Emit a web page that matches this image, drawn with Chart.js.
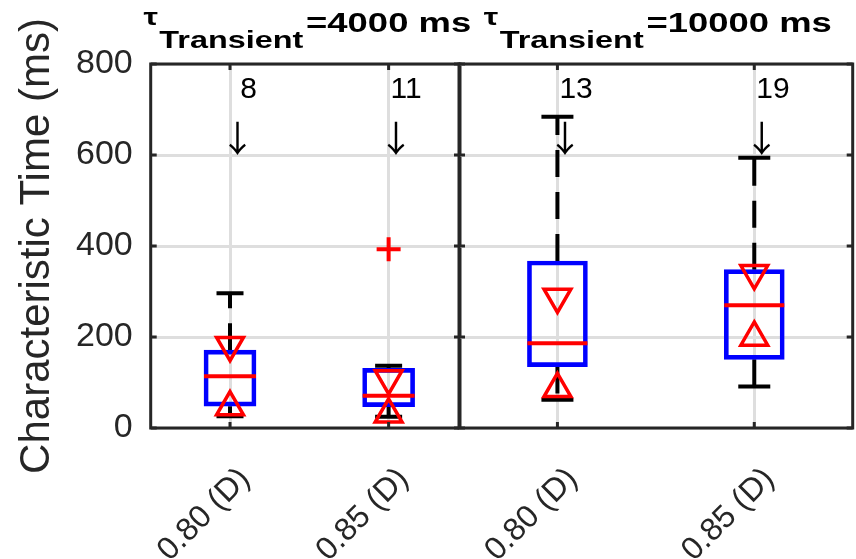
<!DOCTYPE html>
<html>
<head>
<meta charset="utf-8">
<script src="https://cdn.jsdelivr.net/npm/chart.js@4.4.1/dist/chart.umd.min.js"></script>
<style>
  html, body { margin: 0; padding: 0; background: #ffffff; }
  #wrap { position: relative; width: 856px; height: 559px; overflow: hidden; }
  #wrap canvas { position: absolute; left: 0; top: 0; }
</style>
</head>
<body>
<div id="wrap">
  <canvas id="panelA" width="856" height="559"></canvas>
  <canvas id="panelB" width="856" height="559"></canvas>
</div>
<script>
// Groups on the x axis (same for both panels)
const categories = ['0.80 (D)', '0.85 (D)'];
// Transient time constant of each panel (ms)
const transientTimes = [4000, 10000];
// Box-plot statistics, one row per panel, one entry per group (ms)
const upperAdjacent = [[296, 137], [684, 594]];
const q3Values      = [[171, 131], [367, 348]];
const medianValues  = [[114, 71],  [186, 270]];
const q1Values      = [[48, 47],   [135, 151]];
const lowerAdjacent = [[26, 25],   [62, 91]];
const notchHigh     = [[182, 109], [288, 340]];
const notchLow      = [[46, 30],   [86, 199]];
const outlierValues = [[[], [393]], [[], []]];
// Number of samples behind each box
const sampleCounts  = [[8, 11], [13, 19]];
// Y axis
const yTicks = [0, 200, 400, 600, 800];
const yLabel = 'Characteristic Time (ms)';
// Where the sample counts and their arrows sit (ms)
const countLevel = 743;
const arrowLevel = 637;

const FONT = '"Liberation Sans", Arial, Helvetica, sans-serif';
const ARROW_FONT = '"Noto Sans CJK JP", "DejaVu Sans", sans-serif';
const INK = '#262626';
const GRID = '#dedede';
const W = 856, H = 559, PLOT_TOP = 64, PLOT_BOTTOM = 428;

// Pixel geometry of the two side-by-side axes
const panelLayout = [
  { left: 150.7, right: 460, xMax: 2.45, box: 52, cap: 27 },
  { left: 459,   right: 852.7, xMax: 2.5, box: 60, cap: 32 }
];

Chart.defaults.font.family = FONT;

const decorPlugin = {
  id: 'panelDecor',
  afterDraw(chart, args, opts) {
    const p = opts.panel;
    const { ctx, chartArea: a, scales: { x, y } } = chart;
    ctx.save();

    // group labels, rotated 45 degrees under each tick
    ctx.font = '32px ' + FONT;
    ctx.fillStyle = INK;
    ctx.textAlign = 'right';
    ctx.textBaseline = 'middle';
    categories.forEach((c, i) => {
      const px = x.getPixelForValue(i + 1);
      ctx.save();
      ctx.translate(px + 15, a.bottom + 46);
      ctx.rotate(-Math.PI / 4);
      ctx.fillText(c, 0, 0);
      ctx.restore();
    });

    // sample counts with arrows pointing down into the plot
    ctx.fillStyle = '#000000';
    categories.forEach((c, i) => {
      const px = x.getPixelForValue(i + 1);
      ctx.font = '30px ' + FONT;
      ctx.textAlign = 'left';
      ctx.textBaseline = 'middle';
      ctx.fillText(String(sampleCounts[p][i]).padStart(2, ' '), px + 2, y.getPixelForValue(countLevel));
      ctx.font = '36px ' + ARROW_FONT;
      ctx.textAlign = 'center';
      ctx.fillText('\u2193', px + 7.5, y.getPixelForValue(arrowLevel));
    });

    // axes box with inward tick marks
    ctx.strokeStyle = INK;
    ctx.lineWidth = 3;
    ctx.strokeRect(a.left, a.top, a.right - a.left, a.bottom - a.top);
    ctx.beginPath();
    x.ticks.forEach(t => {
      const px = x.getPixelForValue(t.value);
      ctx.moveTo(px, a.bottom); ctx.lineTo(px, a.bottom - 6);
      ctx.moveTo(px, a.top); ctx.lineTo(px, a.top + 6);
    });
    y.ticks.forEach(t => {
      const py = y.getPixelForValue(t.value);
      ctx.moveTo(a.left, py); ctx.lineTo(a.left + 6, py);
      ctx.moveTo(a.right, py); ctx.lineTo(a.right - 6, py);
    });
    ctx.stroke();

    // panel title: tau with subscript, then the value, set in a wide bold face
    const stretch = 1.35;
    const mainFont = 'bold 27px ' + FONT;
    const subFont = 'bold 24px ' + FONT;
    const tauFont = 'bold 24px ' + FONT;
    const tail = '=' + transientTimes[p] + ' ms';
    ctx.fillStyle = '#000000';
    ctx.textAlign = 'left';
    ctx.textBaseline = 'alphabetic';
    ctx.font = tauFont;
    const tauW = ctx.measureText('\u03C4').width + 1;
    ctx.font = subFont;
    const subW = ctx.measureText('Transient').width + 2;
    ctx.font = mainFont;
    const tailW = ctx.measureText(tail).width;
    const total = (tauW + subW + tailW) * stretch;
    const x0 = (a.left + a.right) / 2 - total / 2 + 2;
    ctx.translate(x0, 0);
    ctx.scale(stretch, 1);
    ctx.font = tauFont;
    ctx.fillText('\u03C4', 0, 25);
    ctx.font = subFont;
    ctx.fillText('Transient', tauW, 48);
    ctx.font = mainFont;
    ctx.fillText(tail, tauW + subW, 32);
    ctx.restore();
  }
};

function buildPanel(canvasId, p) {
  const L = panelLayout[p];
  const xs = categories.map((c, i) => i + 1);
  const pts = rows => xs.map((x, i) => ({ x, y: rows[p][i] }));

  const whiskers = [];
  xs.forEach((x, i) => {
    whiskers.push({ x, y: q3Values[p][i] }, { x, y: upperAdjacent[p][i] }, { x, y: null });
    whiskers.push({ x, y: q1Values[p][i] }, { x, y: lowerAdjacent[p][i] }, { x, y: null });
  });
  const outliers = [];
  xs.forEach((x, i) => outlierValues[p][i].forEach(v => outliers.push({ x, y: v })));

  return new Chart(document.getElementById(canvasId), {
    data: {
      datasets: [
        { type: 'line', data: whiskers, borderColor: '#000000', borderWidth: 4,
          borderDash: [27, 15], pointRadius: 0, spanGaps: false, order: 6 },
        { type: 'scatter', data: [...pts(upperAdjacent), ...pts(lowerAdjacent)],
          pointStyle: 'line', pointRadius: L.cap / 2, pointBorderColor: '#000000',
          pointBorderWidth: 4, order: 5 },
        { type: 'bar', data: xs.map((x, i) => ({ x, y: [q1Values[p][i], q3Values[p][i]] })),
          backgroundColor: 'rgba(0,0,0,0)', borderColor: '#0000ff', borderWidth: 4,
          borderSkipped: false, barThickness: L.box, order: 4 },
        { type: 'scatter', data: pts(medianValues), pointStyle: 'line',
          pointRadius: L.box / 2, pointBorderColor: '#ff0000', pointBorderWidth: 4, order: 3 },
        { type: 'scatter', data: pts(notchHigh), pointStyle: 'triangle', pointRotation: 180,
          pointRadius: 15.5, pointBorderColor: '#ff0000', pointBackgroundColor: 'rgba(0,0,0,0)',
          pointBorderWidth: 3.5, order: 2 },
        { type: 'scatter', data: pts(notchLow), pointStyle: 'triangle',
          pointRadius: 15.5, pointBorderColor: '#ff0000', pointBackgroundColor: 'rgba(0,0,0,0)',
          pointBorderWidth: 3.5, order: 2 },
        { type: 'scatter', data: outliers, pointStyle: 'cross', pointRadius: 12,
          pointBorderColor: '#ff0000', pointBorderWidth: 4, order: 1 }
      ]
    },
    options: {
      responsive: false,
      animation: false,
      events: [],
      devicePixelRatio: 1,
      layout: {
        autoPadding: false,
        padding: { left: p === 0 ? 0 : L.left, right: W - L.right, top: PLOT_TOP, bottom: 0 }
      },
      plugins: { legend: { display: false }, tooltip: { enabled: false }, panelDecor: { panel: p } },
      scales: {
        x: {
          type: 'linear', min: 0.5, max: L.xMax, offset: false,
          afterBuildTicks: s => { s.ticks = xs.map(v => ({ value: v })); },
          afterFit: s => { s.height = H - PLOT_BOTTOM; },
          ticks: { display: false },
          grid: { color: GRID, lineWidth: 3, drawTicks: false, offset: false },
          border: { display: false }
        },
        y: {
          min: 0, max: 800,
          afterBuildTicks: s => { s.ticks = yTicks.map(v => ({ value: v })); },
          afterFit: s => { s.width = p === 0 ? L.left : 0; },
          ticks: { display: p === 0, padding: 18, color: INK, font: { family: FONT, size: 34 } },
          title: { display: p === 0, text: yLabel, color: INK,
                   font: { family: FONT, size: 42 }, padding: { top: 12, bottom: 0 } },
          grid: { color: GRID, lineWidth: 3, drawTicks: false },
          border: { display: false }
        }
      }
    },
    plugins: [decorPlugin]
  });
}

buildPanel('panelA', 0);
buildPanel('panelB', 1);
</script>
</body>
</html>
